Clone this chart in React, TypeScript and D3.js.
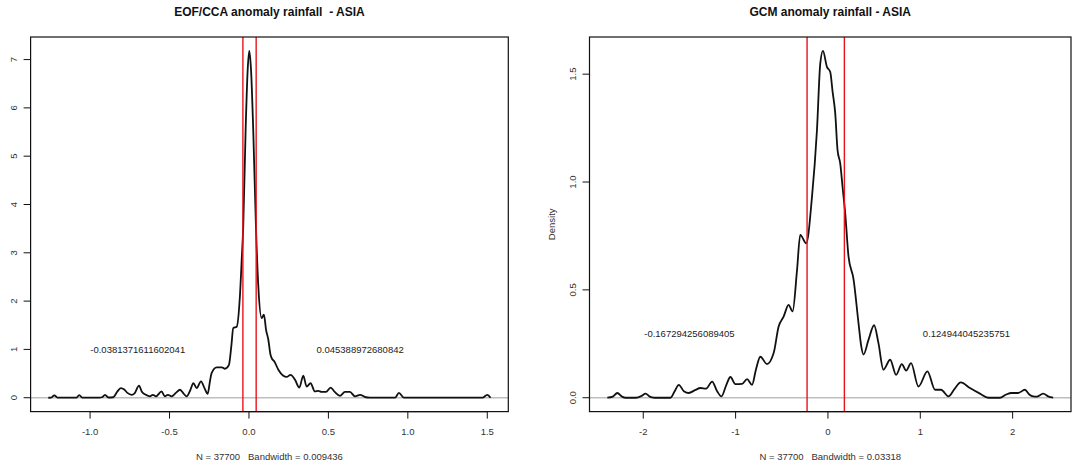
import React from "react";
import * as d3 from "d3";

// ---------- DATA ----------
const leftTitle = "EOF/CCA anomaly rainfall  - ASIA";
const leftSub = "N = 37700   Bandwidth = 0.009436";
const leftXTicks = [-1.0, -0.5, 0.0, 0.5, 1.0, 1.5];
const leftYTicks = [0, 1, 2, 3, 4, 5, 6, 7];
const leftMarks = [-0.0381371611602041, 0.045388972680842];
const leftLabels = ["-0.0381371611602041", "0.045388972680842"];
const leftLabelX = [-0.7, 0.7];
const leftLabelY = 1;
const leftX = [
  -1.263, -1.245, -1.225, -1.205, -1.12, -1.085, -1.068, -1.05, -0.94, -0.925, -0.906, -0.885,
  -0.854, -0.83, -0.806, -0.785, -0.765, -0.738, -0.72, -0.692, -0.675, -0.655, -0.623, -0.605,
  -0.585, -0.55, -0.53, -0.51, -0.487, -0.46, -0.434, -0.41, -0.392, -0.37, -0.35, -0.329, -0.302,
  -0.28, -0.26, -0.245, -0.235, -0.203, -0.17, -0.151, -0.126, -0.11, -0.099, -0.077, -0.057,
  -0.045, -0.036, -0.021, -0.008, 0.002, 0.013, 0.027, 0.044, 0.059, 0.08, 0.094, 0.108, 0.122,
  0.135, 0.143, 0.16, 0.185, 0.216, 0.237, 0.262, 0.29, 0.317, 0.342, 0.363, 0.388, 0.415, 0.436,
  0.457, 0.485, 0.514, 0.54, 0.573, 0.604, 0.636, 0.667, 0.699, 0.736, 0.76, 0.92, 0.944, 0.975,
  1.47, 1.5, 1.521,
];
const leftY = [
  0.0, 0.002, 0.05, 0.003, 0.002, 0.003, 0.055, 0.003, 0.003, 0.01, 0.06, 0.005,
  0.01, 0.12, 0.2, 0.17, 0.1, 0.06, 0.09, 0.25, 0.13, 0.07, 0.03, 0.06,
  0.03, 0.13, 0.03, 0.06, 0.03, 0.1, 0.165, 0.08, 0.03, 0.15, 0.3, 0.2, 0.34,
  0.2, 0.08, 0.35, 0.51, 0.63, 0.63, 0.6, 0.68, 1.1, 1.44, 1.47, 2.1,
  2.9, 3.54, 5.54, 6.79, 7.18, 6.79, 5.54, 3.54, 2.3, 1.65, 1.72, 1.4, 1.2,
  0.9, 0.82, 0.75, 0.58, 0.455, 0.43, 0.475, 0.37, 0.21, 0.455, 0.23, 0.3, 0.13, 0.14,
  0.12, 0.12, 0.21, 0.12, 0.04, 0.12, 0.12, 0.03, 0.06, 0.01, 0.003, 0.003, 0.1, 0.003,
  0.002, 0.06, 0.0,
];

const rightTitle = "GCM anomaly rainfall - ASIA";
const rightSub = "N = 37700   Bandwidth = 0.03318";
const rightYLabel = "Density";
const rightXTicks = [-2, -1, 0, 1, 2];
const rightXTickLabels = ["-2", "-1", "0", "1", "2"];
const rightYTicks = [0.0, 0.5, 1.0, 1.5];
const rightMarks = [-0.226, 0.178];
const rightLabels = ["-0.167294256089405", "0.124944045235751"];
const rightLabelX = [-1.5, 1.5];
const rightLabelY = 0.3;
const rightX = [
  -2.389, -2.33, -2.281, -2.23, -2.19, -2.08, -2.02, -1.975, -1.93, -1.88, -1.705, -1.66, -1.615,
  -1.56, -1.507, -1.44, -1.38, -1.32, -1.254, -1.2, -1.153, -1.1, -1.056, -1.002, -0.93, -0.876,
  -0.822, -0.78, -0.732, -0.66, -0.588, -0.534, -0.48, -0.426, -0.383, -0.335, -0.3, -0.235, -0.173,
  -0.119, -0.083, -0.054, -0.011, 0.025, 0.05, 0.079, 0.104, 0.133, 0.16, 0.187, 0.223, 0.277,
  0.331, 0.36, 0.385, 0.439, 0.5, 0.547, 0.601, 0.674, 0.738, 0.8, 0.847, 0.9, 0.98, 1.077, 1.16,
  1.225, 1.304, 1.37, 1.438, 1.538, 1.646, 1.737, 1.862, 1.93, 1.989, 2.06, 2.133, 2.18, 2.223,
  2.26, 2.331, 2.39, 2.439,
];
const rightY = [
  0.0, 0.005, 0.022, 0.005, 0.0, 0.0, 0.008, 0.019, 0.005, 0.0, 0.0, 0.03, 0.06,
  0.03, 0.022, 0.035, 0.045, 0.042, 0.075, 0.03, 0.006, 0.06, 0.096, 0.063, 0.064, 0.086,
  0.06, 0.13, 0.19, 0.156, 0.207, 0.33, 0.376, 0.43, 0.4, 0.59, 0.755, 0.716, 0.93,
  1.24, 1.55, 1.608, 1.534, 1.51, 1.42, 1.318, 1.148, 1.086, 0.97, 0.855, 0.654, 0.55,
  0.346, 0.24, 0.2, 0.268, 0.336, 0.253, 0.13, 0.176, 0.106, 0.156, 0.126, 0.16, 0.052, 0.122, 0.037,
  0.037, 0.006, 0.04, 0.071, 0.045, 0.019, 0.0, 0.0, 0.015, 0.022, 0.022, 0.037, 0.015, 0.006,
  0.005, 0.019, 0.005, 0.0,
];

// ---------- LAYOUT ----------
const W = 1080;
const H = 466;
const FONT = "'Liberation Sans', Arial, Helvetica, sans-serif";

type PanelProps = {
  box: { left: number; right: number; top: number; bottom: number };
  title: string;
  sub: string;
  xs: number[];
  ys: number[];
  xTicks: number[];
  xTickLabels: string[];
  yTicks: number[];
  yTickLabels: string[];
  marks: number[];
  labels: string[];
  labelX: number[];
  labelY: number;
  yLabel?: string;
};

function Panel(p: PanelProps) {
  const { box } = p;
  const [xmin, xmax] = d3.extent(p.xs) as [number, number];
  const ymax = d3.max(p.ys) as number;
  const xr = xmax - xmin;
  const x = d3
    .scaleLinear()
    .domain([xmin - 0.04 * xr, xmax + 0.04 * xr])
    .range([box.left, box.right]);
  const y = d3
    .scaleLinear()
    .domain([-0.04 * ymax, 1.04 * ymax])
    .range([box.bottom, box.top]);
  const pts: [number, number][] = p.xs.map((v, i) => [v, p.ys[i]]);
  const line = d3
    .line<[number, number]>()
    .x((d) => x(d[0]))
    .y((d) => y(d[1]))
    .curve(d3.curveMonotoneX);
  const cx = (box.left + box.right) / 2;
  const tl = 7;
  const pre = { whiteSpace: "pre" as const };
  return (
    <g fontFamily={FONT}>
      <text x={cx} y={16} textAnchor="middle" fontSize={12} fontWeight="bold" fill="#111" style={pre} xmlSpace="preserve">
        {p.title}
      </text>
      <line x1={box.left} x2={box.right} y1={y(0)} y2={y(0)} stroke="#bebebe" strokeWidth={1.5} />
      <path d={line(pts) || ""} fill="none" stroke="#111" strokeWidth={1.8} strokeLinejoin="round" />
      {p.marks.map((m, i) => (
        <line key={i} x1={x(m)} x2={x(m)} y1={box.top} y2={box.bottom} stroke="#e8141a" strokeWidth={1.4} />
      ))}
      <rect x={box.left} y={box.top} width={box.right - box.left} height={box.bottom - box.top} fill="none" stroke="#111" strokeWidth={1.2} />
      {/* x axis */}
      <line x1={x(p.xTicks[0])} x2={x(p.xTicks[p.xTicks.length - 1])} y1={box.bottom} y2={box.bottom} stroke="#111" strokeWidth={1.2} />
      {p.xTicks.map((t, i) => (
        <g key={i}>
          <line x1={x(t)} x2={x(t)} y1={box.bottom} y2={box.bottom + tl} stroke="#111" strokeWidth={1} />
          <text x={x(t)} y={435} textAnchor="middle" fontSize={9.5} fill="#333">
            {p.xTickLabels[i]}
          </text>
        </g>
      ))}
      {/* y axis */}
      {p.yTicks.map((t, i) => (
        <g key={i}>
          <line x1={box.left - tl} x2={box.left} y1={y(t)} y2={y(t)} stroke="#111" strokeWidth={1} />
          <text
            transform={`translate(${box.left - 14},${y(t)}) rotate(-90)`}
            textAnchor="middle"
            fontSize={9.5}
            fill="#333"
          >
            {p.yTickLabels[i]}
          </text>
        </g>
      ))}
      {p.yLabel && (
        <text
          transform={`translate(${box.left - 35},${(box.top + box.bottom) / 2}) rotate(-90)`}
          textAnchor="middle"
          fontSize={9.5}
          fill="#333"
        >
          {p.yLabel}
        </text>
      )}
      {p.labels.map((l, i) => (
        <text key={i} x={x(p.labelX[i])} y={y(p.labelY) + 3.5} textAnchor="middle" fontSize={9.5} fill="#222">
          {l}
        </text>
      ))}
      <text x={cx} y={460} textAnchor="middle" fontSize={9.5} fill="#333" style={pre} xmlSpace="preserve">
        {p.sub}
      </text>
    </g>
  );
}

export default function App() {
  return (
    <div style={{ position: "fixed", left: 0, top: 0, width: W, height: H, background: "#fff" }}>
      <svg width={W} height={H} viewBox={`0 0 ${W} ${H}`}>
        <rect width={W} height={H} fill="#fff" />
        <Panel
          box={{ left: 30.6, right: 508.3, top: 37, bottom: 411.6 }}
          title={leftTitle}
          sub={leftSub}
          xs={leftX}
          ys={leftY}
          xTicks={leftXTicks}
          xTickLabels={leftXTicks.map((t) => t.toFixed(1))}
          yTicks={leftYTicks}
          yTickLabels={leftYTicks.map((t) => String(t))}
          marks={leftMarks}
          labels={leftLabels}
          labelX={leftLabelX}
          labelY={leftLabelY}
        />
        <Panel
          box={{ left: 589.5, right: 1071, top: 37, bottom: 411.6 }}
          title={rightTitle}
          sub={rightSub}
          xs={rightX}
          ys={rightY}
          xTicks={rightXTicks}
          xTickLabels={rightXTickLabels}
          yTicks={rightYTicks}
          yTickLabels={rightYTicks.map((t) => t.toFixed(1))}
          marks={rightMarks}
          labels={rightLabels}
          labelX={rightLabelX}
          labelY={rightLabelY}
          yLabel={rightYLabel}
        />
      </svg>
    </div>
  );
}
